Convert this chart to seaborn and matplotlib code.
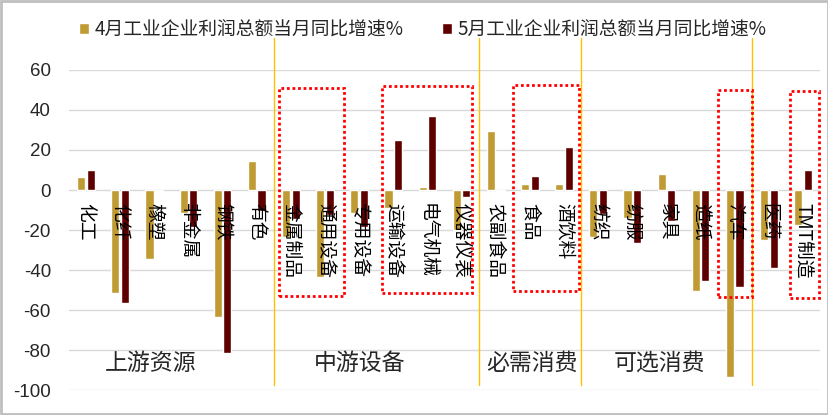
import matplotlib
matplotlib.use("Agg")
import matplotlib.pyplot as plt
from matplotlib.patches import Rectangle, Patch
import seaborn as sns
import pandas as pd

categories = ["化工", "化纤", "橡塑", "非金属", "钢铁", "有色",
              "金属制品", "通用设备", "专用设备", "运输设备", "电气机械", "仪器仪表",
              "农副食品", "食品", "酒饮料",
              "纺织", "纺服", "家具", "造纸", "汽车",
              "医药", "TMT制造"]
apr = [6.5, -51.3, -34.3, -11.3, -63.7, 14.5,
       -23.7, -43.3, -11.7, -9.0, 1.5, -20.0,
       29.5, 3.0, 3.0,
       -23.3, -14.0, 8.0, -50.3, -93.3,
       -25.0, -17.5]
may = [10.0, -56.3, -0.7, -18.3, -81.3, -10.3,
       -14.7, -12.5, -18.7, 25.0, 37.0, -3.7,
       -0.5, 7.0, 21.5,
       -12.0, -26.3, -15.3, -45.3, -48.3,
       -38.8, 10.0]
series = ["4月工业企业利润总额当月同比增速%", "5月工业企业利润总额当月同比增速%"]
colors = ["#C09A32", "#5E0000"]
yticks = [60, 40, 20, 0, -20, -40, -60, -80, -100]

groups = ["上游资源", "中游设备", "必需消费", "可选消费"]
group_label_x = [1.88, 8.0, 13.05, 16.8]
separators = [5.5, 11.5, 14.5, 19.5]
boxes = [(5.66, 7.56, -53, 51), (8.68, 11.32, -51.5, 52), (12.52, 14.43, -50.5, 52.5),
         (18.5, 19.5, -53.5, 50), (20.61, 21.46, -54, 49.5)]

df = pd.DataFrame({
    "cat": categories * 2,
    "val": apr + may,
    "series": [series[0]] * len(categories) + [series[1]] * len(categories),
})

sns.set_style("white")
plt.rcParams["font.family"] = ["Noto Sans CJK SC", "DejaVu Sans"]

fig = plt.figure(figsize=(8.29, 4.15), dpi=100)
ax = fig.add_axes([69 / 829, 25 / 415, 751 / 829, 320 / 415])

sns.barplot(data=df, x="cat", y="val", hue="series", order=categories,
            hue_order=series, palette=colors, width=0.56, gap=0.15,
            saturation=1, legend=False, ax=ax, errorbar=None)

ax.set_ylim(-100, 60)
ax.set_xlim(-0.5, len(categories) - 0.5)
ax.set_yticks(yticks)
ax.set_yticklabels([str(v) for v in yticks], family="Liberation Sans", fontsize=13.5)
ax.tick_params(axis="y", length=0, pad=13)
ax.set_xticks([])
ax.set_xlabel("")
ax.set_ylabel("")
for s in ax.spines.values():
    s.set_visible(False)
ax.grid(axis="y", color="#D9D9D9", linewidth=1)
ax.set_axisbelow(True)

for i, c in enumerate(categories):
    ax.text(i, -6.5, c, rotation=270, ha="center", va="top", fontsize=13.5,
            fontweight="light", color="#000000")

for x, g in zip(group_label_x, groups):
    ax.text(x, -86.5, g, ha="center", va="center", fontsize=16.5, fontweight="light")

for x in separators:
    ax.plot([x, x], [-97.5, 76], color="#FFC000", linewidth=1, clip_on=False, zorder=1)

for x0, x1, y0, y1 in boxes:
    ax.add_patch(Rectangle((x0, y0), x1 - x0, y1 - y0, fill=False, edgecolor="#FF0000",
                           linewidth=2, linestyle=(0, (1, 1)), clip_on=False, zorder=5))

handles = [Patch(facecolor=colors[0]), Patch(facecolor=colors[1])]
fig.legend(handles, series, loc="center", bbox_to_anchor=(0.51, 0.928), ncol=2,
           frameon=False, fontsize=13.5, handlelength=0.55, handleheight=0.55,
           handletextpad=0.3, columnspacing=2.0)

fig.patches.append(Rectangle((0.0015, 0.003), 0.997, 0.994, transform=fig.transFigure,
                             fill=False, edgecolor="#BFBFBF", linewidth=2))

fig.savefig("out.png", dpi=100)
